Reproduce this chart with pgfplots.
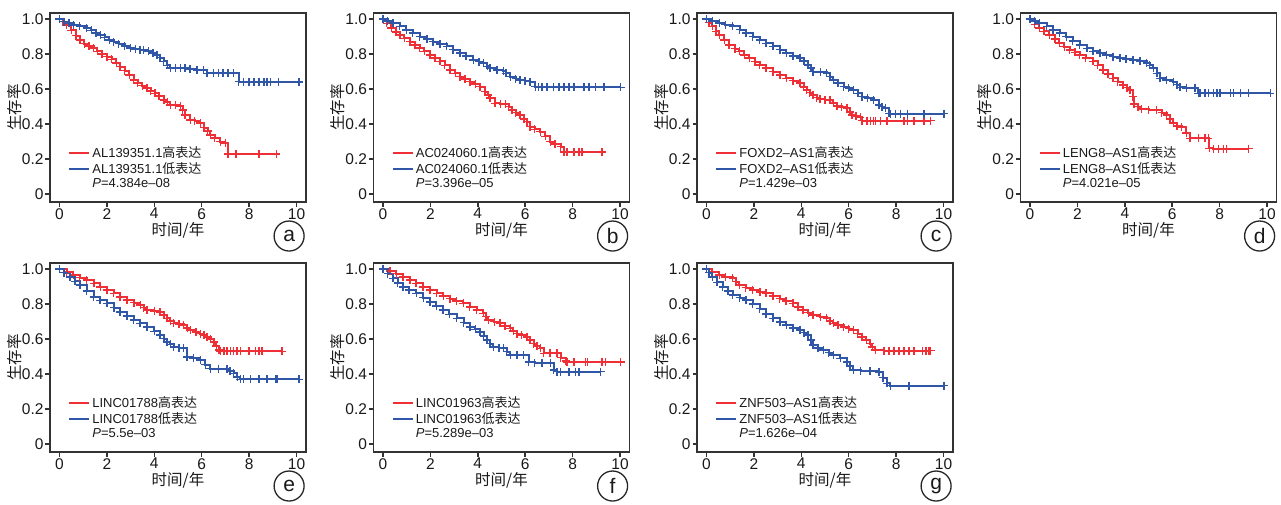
\documentclass[border=0pt]{standalone}
\usepackage{fontspec}
\setmainfont{Liberation Sans}
\newfontfamily\cjk{Noto Sans CJK SC}
\usepackage{pgfplots}
\pgfplotsset{compat=1.18}
\definecolor{kmred}{RGB}{238,48,54}
\definecolor{kmblue}{RGB}{48,86,168}
\pgfplotsset{
  km/.style={
    width=256pt, height=189pt, scale only axis,
    xmin=-0.4, xmax=10.4, ymin=-0.045, ymax=1.035,
    xtick={0,2,4,6,8,10}, xticklabels={0,2,4,6,8,10},
    ytick={0,0.2,0.4,0.6,0.8,1}, yticklabels={0,0.2,0.4,0.6,0.8,1.0},
    tick align=outside, major tick length=4.5pt, tick pos=left,
    tick label style={font=\fontsize{15.5}{15.5}\selectfont, text=black!90},
    yticklabel style={xshift=1.5pt},
    xticklabel style={inner sep=1.5pt},
    axis line style={line width=1.6pt, black!80},
    every tick/.style={line width=1.5pt, black!80},
    xlabel={\cjk 时间/年}, ylabel={\cjk 生存率},
    every axis x label/.style={at={(axis description cs:0.5,-0.152)}, anchor=center, inner sep=0pt,
      font=\fontsize{15.5}{15.5}\selectfont, text=black!90},
    every axis y label/.style={at={(axis description cs:-0.139,0.5)}, rotate=90, anchor=center, inner sep=0pt,
      font=\fontsize{15.5}{15.5}\selectfont, text=black!90},
    clip=false,
    legend style={draw=none, fill=none, at={(0.071,0.306)}, anchor=north west,
      font=\fontsize{13}{13}\selectfont, text=black!90, row sep=-0.5pt, inner sep=0pt},
    legend cell align=left,
    legend image code/.code={\draw[#1, line width=2pt] (0pt,0pt) -- (20pt,0pt);},
  },
  kmr/.style={const plot, color=kmred, line width=2pt, mark=+, mark size=4pt, mark options={line width=1.5pt}},
  kmb/.style={const plot, color=kmblue, line width=2pt, mark=+, mark size=4pt, mark options={line width=1.5pt}},
}
\newcommand{\tag}[1]{\node[draw=black!85, circle, line width=1.3pt, minimum size=30pt, inner sep=0pt, text=black!90,
  font=\fontsize{21}{21}\selectfont] at (axis description cs:0.934,-0.18) {#1};}
\begin{document}
\begin{tikzpicture}
\useasboundingbox (0pt,0pt) rectangle (1281pt,-505pt);

% (a)
\begin{axis}[km, at={(50pt,-13pt)}, anchor=north west]
\addplot[kmr] coordinates {(0,1) (0.15,0.985) (0.3,0.967) (0.5,0.935) (0.7,0.905) (0.87,0.88) (1.05,0.86) (1.25,0.845) (1.44,0.834) (1.6,0.815) (1.8,0.8) (2.0,0.786) (2.2,0.77) (2.4,0.75) (2.56,0.729) (2.75,0.705) (2.95,0.68) (3.13,0.653) (3.3,0.635) (3.5,0.62) (3.69,0.605) (3.85,0.59) (4.04,0.576) (4.2,0.56) (4.4,0.538) (4.55,0.525) (4.68,0.51) (4.9,0.508) (5.1,0.504) (5.2,0.48) (5.3,0.452) (5.52,0.424) (5.7,0.42) (5.94,0.405) (6.1,0.38) (6.25,0.36) (6.37,0.338) (6.55,0.32) (6.79,0.30) (7.0,0.29) (7.1,0.229) (7.45,0.229) (8.41,0.229) (9.15,0.229)};
\addlegendentry{AL139351.1{\cjk 高表达}}
\addplot[kmb] coordinates {(0,1) (0.2,0.985) (0.4,0.975) (0.6,0.967) (0.85,0.958) (1.15,0.948) (1.35,0.935) (1.55,0.92) (1.72,0.91) (1.9,0.895) (2.1,0.88) (2.28,0.872) (2.5,0.86) (2.75,0.845) (2.99,0.834) (3.2,0.83) (3.4,0.826) (3.55,0.824) (3.75,0.815) (3.95,0.805) (4.11,0.796) (4.25,0.78) (4.39,0.758) (4.55,0.735) (4.68,0.72) (4.9,0.72) (5.1,0.72) (5.3,0.72) (5.5,0.715) (5.8,0.71) (6.08,0.71) (6.23,0.69) (6.5,0.69) (6.7,0.69) (6.9,0.69) (7.1,0.69) (7.35,0.69) (7.56,0.643) (7.77,0.64) (7.99,0.64) (8.2,0.64) (8.41,0.64) (8.62,0.64) (8.76,0.64) (8.9,0.64) (9.25,0.64) (10.1,0.64)};
\addlegendentry{AL139351.1{\cjk 低表达}}
\addlegendimage{empty legend}\addlegendentry{\textit{P}=4.384e–08}
\tag{a}
\end{axis}

% (b)
\begin{axis}[km, at={(373.5pt,-13pt)}, anchor=north west]
\addplot[kmr] coordinates {(0,1) (0.15,0.975) (0.35,0.948) (0.55,0.925) (0.71,0.91) (0.9,0.89) (1.13,0.872) (1.35,0.852) (1.55,0.834) (1.75,0.815) (1.98,0.796) (2.2,0.777) (2.4,0.758) (2.6,0.735) (2.82,0.71) (3.05,0.69) (3.25,0.672) (3.45,0.657) (3.67,0.643) (3.9,0.63) (4.1,0.614) (4.31,0.586) (4.45,0.565) (4.52,0.548) (4.73,0.519) (4.95,0.517) (5.16,0.515) (5.3,0.5) (5.44,0.481) (5.6,0.465) (5.79,0.452) (5.95,0.43) (6.07,0.414) (6.21,0.385) (6.4,0.37) (6.64,0.357) (6.85,0.33) (7.06,0.3) (7.25,0.285) (7.49,0.271) (7.63,0.242) (7.77,0.24) (8.05,0.24) (8.26,0.24) (8.4,0.24) (9.25,0.24)};
\addlegendentry{AC024060.1{\cjk 高表达}}
\addplot[kmb] coordinates {(0,1) (0.2,0.988) (0.42,0.977) (0.7,0.958) (0.99,0.939) (1.25,0.92) (1.55,0.9) (1.85,0.885) (2.12,0.872) (2.4,0.858) (2.68,0.844) (2.95,0.825) (3.25,0.805) (3.5,0.79) (3.81,0.767) (4.05,0.757) (4.24,0.748) (4.4,0.73) (4.52,0.72) (4.8,0.71) (5.08,0.706) (5.2,0.69) (5.37,0.672) (5.6,0.66) (5.79,0.653) (6.0,0.648) (6.21,0.643) (6.43,0.614) (6.57,0.61) (6.71,0.61) (6.92,0.61) (7.2,0.61) (7.42,0.61) (7.63,0.61) (7.84,0.61) (8.05,0.61) (8.47,0.61) (8.69,0.61) (8.97,0.61) (9.32,0.61) (10.03,0.61)};
\addlegendentry{AC024060.1{\cjk 低表达}}
\addlegendimage{empty legend}\addlegendentry{\textit{P}=3.396e–05}
\tag{b}
\end{axis}

% (c)
\begin{axis}[km, at={(697pt,-13pt)}, anchor=north west]
\addplot[kmr] coordinates {(0,1) (0.1,0.98) (0.25,0.958) (0.4,0.93) (0.54,0.91) (0.75,0.88) (0.96,0.853) (1.2,0.832) (1.39,0.815) (1.6,0.795) (1.81,0.777) (2.05,0.757) (2.24,0.739) (2.5,0.72) (2.8,0.7) (3.1,0.68) (3.37,0.662) (3.65,0.648) (3.94,0.634) (4.1,0.612) (4.22,0.595) (4.35,0.58) (4.5,0.567) (4.65,0.552) (4.79,0.542) (5.0,0.54) (5.21,0.538) (5.35,0.52) (5.5,0.504) (5.7,0.497) (5.92,0.49) (6.05,0.47) (6.13,0.452) (6.3,0.445) (6.49,0.439) (6.56,0.42) (6.77,0.42) (6.91,0.42) (7.05,0.42) (7.12,0.42) (7.34,0.42) (7.62,0.42) (8.33,0.42) (8.47,0.42) (8.75,0.42) (9.18,0.42) (9.46,0.42)};
\addlegendentry{FOXD2–AS1{\cjk 高表达}}
\addplot[kmb] coordinates {(0,1) (0.25,0.99) (0.54,0.977) (0.8,0.968) (1.1,0.958) (1.4,0.94) (1.67,0.92) (1.95,0.9) (2.24,0.882) (2.5,0.862) (2.8,0.844) (3.1,0.825) (3.37,0.805) (3.65,0.79) (3.94,0.777) (4.12,0.76) (4.29,0.739) (4.4,0.72) (4.5,0.7) (4.8,0.695) (5.07,0.691) (5.2,0.672) (5.35,0.653) (5.55,0.635) (5.78,0.614) (6.0,0.605) (6.2,0.595) (6.4,0.575) (6.56,0.557) (6.8,0.548) (7.05,0.538) (7.27,0.51) (7.4,0.5) (7.55,0.49) (7.69,0.462) (7.76,0.46) (7.97,0.46) (8.19,0.46) (8.47,0.46) (9.18,0.46) (10.03,0.46)};
\addlegendentry{FOXD2–AS1{\cjk 低表达}}
\addlegendimage{empty legend}\addlegendentry{\textit{P}=1.429e–03}
\tag{c}
\end{axis}

% (d)
\begin{axis}[km, at={(1020.5pt,-13pt)}, anchor=north west]
\addplot[kmr] coordinates {(0,1) (0.2,0.97) (0.4,0.948) (0.6,0.93) (0.82,0.91) (1.05,0.885) (1.24,0.863) (1.45,0.843) (1.67,0.824) (1.9,0.81) (2.09,0.796) (2.35,0.778) (2.66,0.758) (2.85,0.735) (3.08,0.71) (3.3,0.685) (3.5,0.662) (3.7,0.643) (3.93,0.624) (4.1,0.608) (4.21,0.595) (4.35,0.557) (4.38,0.515) (4.55,0.5) (4.7,0.485) (5.0,0.483) (5.34,0.481) (5.55,0.465) (5.76,0.452) (5.9,0.43) (6.05,0.405) (6.2,0.39) (6.4,0.382) (6.6,0.35) (6.75,0.319) (7.1,0.319) (7.38,0.319) (7.53,0.319) (7.57,0.261) (7.74,0.26) (7.95,0.26) (8.16,0.26) (8.3,0.26) (9.22,0.26)};
\addlegendentry{LENG8–AS1{\cjk 高表达}}
\addplot[kmb] coordinates {(0,1) (0.2,0.988) (0.4,0.977) (0.7,0.958) (0.96,0.939) (1.25,0.92) (1.53,0.9) (1.8,0.876) (2.09,0.853) (2.4,0.833) (2.66,0.815) (2.95,0.805) (3.22,0.796) (3.5,0.786) (3.79,0.777) (4.05,0.772) (4.35,0.767) (4.65,0.758) (4.92,0.748) (5.05,0.735) (5.2,0.72) (5.35,0.69) (5.48,0.662) (5.75,0.652) (6.05,0.643) (6.2,0.625) (6.33,0.61) (6.6,0.607) (6.97,0.605) (7.1,0.576) (7.18,0.575) (7.39,0.575) (7.53,0.575) (7.74,0.575) (7.88,0.575) (8.02,0.575) (8.45,0.575) (8.59,0.575) (8.87,0.575) (9.22,0.575) (10.14,0.575)};
\addlegendentry{LENG8–AS1{\cjk 低表达}}
\addlegendimage{empty legend}\addlegendentry{\textit{P}=4.021e–05}
\tag{d}
\end{axis}

% (e)
\begin{axis}[km, at={(50pt,-263pt)}, anchor=north west]
\addplot[kmr] coordinates {(0,1) (0.3,0.985) (0.59,0.966) (0.85,0.952) (1.15,0.937) (1.45,0.918) (1.72,0.899) (2.0,0.88) (2.28,0.861) (2.55,0.842) (2.85,0.823) (3.15,0.808) (3.41,0.794) (3.55,0.78) (3.69,0.766) (4.0,0.76) (4.25,0.756) (4.4,0.737) (4.54,0.718) (4.68,0.704) (4.82,0.69) (5.05,0.685) (5.24,0.68) (5.4,0.665) (5.52,0.651) (5.75,0.64) (5.94,0.632) (6.1,0.622) (6.23,0.613) (6.38,0.6) (6.51,0.585) (6.62,0.56) (6.72,0.537) (6.79,0.53) (6.93,0.53) (7.07,0.53) (7.21,0.53) (7.35,0.53) (7.49,0.53) (7.63,0.53) (7.99,0.53) (8.27,0.53) (8.41,0.53) (8.55,0.53) (9.39,0.53)};
\addlegendentry{LINC01788{\cjk 高表达}}
\addplot[kmb] coordinates {(0,1) (0.2,0.98) (0.45,0.956) (0.65,0.93) (0.87,0.909) (1.15,0.875) (1.44,0.842) (1.7,0.822) (2.0,0.804) (2.3,0.78) (2.56,0.756) (2.85,0.732) (3.13,0.709) (3.4,0.69) (3.69,0.67) (4.0,0.645) (4.25,0.623) (4.4,0.603) (4.54,0.585) (4.68,0.57) (4.82,0.556) (5.05,0.551) (5.24,0.547) (5.38,0.499) (5.65,0.49) (5.94,0.48) (6.15,0.455) (6.37,0.432) (6.7,0.432) (7.07,0.432) (7.2,0.418) (7.35,0.404) (7.5,0.385) (7.63,0.37) (7.77,0.37) (8.06,0.37) (8.41,0.37) (8.76,0.37) (9.11,0.37) (9.18,0.37) (10.1,0.37)};
\addlegendentry{LINC01788{\cjk 低表达}}
\addlegendimage{empty legend}\addlegendentry{\textit{P}=5.5e–03}
\tag{e}
\end{axis}

% (f)
\begin{axis}[km, at={(373.5pt,-263pt)}, anchor=north west]
\addplot[kmr] coordinates {(0,1) (0.3,0.988) (0.56,0.975) (0.85,0.956) (1.13,0.937) (1.4,0.918) (1.69,0.899) (1.98,0.88) (2.26,0.861) (2.55,0.846) (2.82,0.832) (3.1,0.818) (3.39,0.804) (3.65,0.785) (3.95,0.766) (4.24,0.747) (4.35,0.728) (4.45,0.709) (4.7,0.7) (4.94,0.69) (5.15,0.676) (5.37,0.661) (5.5,0.646) (5.65,0.632) (5.85,0.622) (6.07,0.613) (6.2,0.594) (6.36,0.575) (6.5,0.561) (6.64,0.547) (6.78,0.518) (7.05,0.518) (7.34,0.518) (7.49,0.495) (7.7,0.476) (7.77,0.47) (8.05,0.47) (8.55,0.47) (8.62,0.47) (9.25,0.47) (9.39,0.47) (10.03,0.47)};
\addlegendentry{LINC01963{\cjk 高表达}}
\addplot[kmb] coordinates {(0,1) (0.2,0.975) (0.42,0.947) (0.62,0.92) (0.85,0.899) (1.1,0.88) (1.41,0.861) (1.7,0.837) (1.98,0.813) (2.25,0.79) (2.54,0.766) (2.8,0.742) (3.11,0.718) (3.4,0.694) (3.67,0.67) (3.9,0.656) (4.1,0.642) (4.25,0.618) (4.38,0.594) (4.52,0.575) (4.66,0.556) (4.9,0.552) (5.08,0.547) (5.22,0.528) (5.37,0.509) (5.65,0.509) (5.93,0.509) (6.14,0.47) (6.4,0.466) (6.7,0.463) (7.06,0.461) (7.2,0.423) (7.34,0.415) (7.49,0.415) (7.84,0.415) (8.12,0.415) (8.26,0.415) (9.18,0.415)};
\addlegendentry{LINC01963{\cjk 低表达}}
\addlegendimage{empty legend}\addlegendentry{\textit{P}=5.289e–03}
\tag{f}
\end{axis}

% (g)
\begin{axis}[km, at={(697pt,-263pt)}, anchor=north west]
\addplot[kmr] coordinates {(0,1) (0.25,0.985) (0.54,0.966) (0.8,0.956) (1.1,0.947) (1.25,0.928) (1.39,0.909) (1.65,0.895) (1.95,0.88) (2.25,0.87) (2.52,0.861) (2.8,0.846) (3.09,0.832) (3.35,0.818) (3.65,0.804) (3.85,0.785) (4.08,0.766) (4.3,0.752) (4.5,0.737) (4.8,0.728) (5.07,0.718) (5.2,0.704) (5.35,0.69) (5.55,0.68) (5.78,0.67) (6.0,0.66) (6.2,0.651) (6.38,0.632) (6.56,0.613) (6.75,0.594) (6.91,0.575) (7.0,0.556) (7.12,0.537) (7.48,0.535) (7.69,0.535) (7.9,0.535) (8.12,0.535) (8.33,0.535) (8.54,0.535) (8.75,0.535) (9.11,0.535) (9.25,0.535) (9.39,0.535) (9.46,0.535)};
\addlegendentry{ZNF503–AS1{\cjk 高表达}}
\addplot[kmb] coordinates {(0,1) (0.1,0.98) (0.25,0.956) (0.45,0.925) (0.68,0.899) (0.9,0.875) (1.1,0.851) (1.4,0.837) (1.67,0.823) (1.95,0.8) (2.24,0.775) (2.5,0.745) (2.8,0.718) (3.1,0.699) (3.37,0.68) (3.65,0.665) (3.94,0.651) (4.12,0.637) (4.29,0.623) (4.4,0.595) (4.5,0.566) (4.7,0.55) (4.93,0.537) (5.15,0.523) (5.35,0.509) (5.65,0.49) (5.92,0.47) (6.05,0.447) (6.2,0.423) (6.5,0.42) (6.9,0.416) (7.27,0.413) (7.45,0.38) (7.62,0.347) (7.76,0.335) (8.54,0.335) (10.03,0.335)};
\addlegendentry{ZNF503–AS1{\cjk 低表达}}
\addlegendimage{empty legend}\addlegendentry{\textit{P}=1.626e–04}
\tag{g}
\end{axis}
\end{tikzpicture}
\end{document}
